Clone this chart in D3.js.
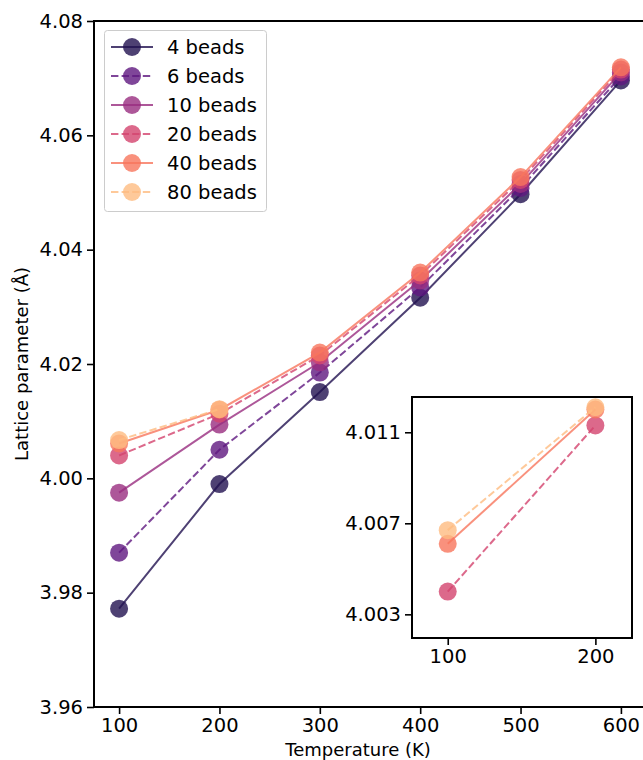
<!DOCTYPE html>
<html>
<head>
<meta charset="utf-8">
<script src="https://cdn.jsdelivr.net/npm/d3@7"></script>
<style>
  html, body { margin: 0; padding: 0; background: #fff; }
  svg { display: block; font-family: "DejaVu Sans", sans-serif; }
</style>
</head>
<body>
<svg id="chart" width="643" height="760"></svg>
<script>
// Lattice parameter vs temperature for different numbers of path-integral beads
const temperatures = [100, 200, 300, 400, 500, 600];
const seriesNames = ["4 beads", "6 beads", "10 beads", "20 beads", "40 beads", "80 beads"];
const beads4  = [3.9772, 3.9990, 4.0151, 4.0316, 4.0497, 4.0696];
const beads6  = [3.9870, 4.0050, 4.0185, 4.0334, 4.0508, 4.0703];
const beads10 = [3.9975, 4.0094, 4.0203, 4.0346, 4.0515, 4.0710];
const beads20 = [4.0040, 4.0113, 4.0215, 4.0355, 4.0522, 4.0715];
const beads40 = [4.0061, 4.0120, 4.0220, 4.0360, 4.0527, 4.0719];
const beads80 = [4.0067, 4.0121]; // 100 K and 200 K only
const seriesValues = [beads4, beads6, beads10, beads20, beads40, beads80];
const colors = ["#221150", "#5f187f", "#982d80", "#d3436e", "#f8765c", "#febb81"];
const dashed = [false, true, false, true, false, true];

const yTicks = [3.96, 3.98, 4.00, 4.02, 4.04, 4.06, 4.08];
const xTicks = [100, 200, 300, 400, 500, 600];
const insetXTicks = [100, 200];
const insetYTicks = [4.003, 4.007, 4.011];
const insetSeries = [3, 4, 5];
const insetPoints = 2; // the inset shows the 100 K and 200 K points only

const svg = d3.select("#chart");
const alpha = 0.8;
const fontSize = 19.5;

// Main axes
const main = { left: 94, right: 646, top: 21, bottom: 707 };
const x = d3.scaleLinear().domain([75, 625]).range([main.left, main.right]);
const y = d3.scaleLinear().domain([3.96, 4.08]).range([main.bottom, main.top]);

function drawSeries(g, xs, ys, idx, n, r) {
  idx.forEach(k => {
    const pts = seriesValues[k].slice(0, n).map((v, i) => [temperatures[i], v]);
    const sg = g.append("g");
    sg.append("path")
      .datum(pts)
      .attr("d", d3.line().x(d => xs(d[0])).y(d => ys(d[1])))
      .attr("fill", "none")
      .attr("stroke", colors[k])
      .attr("stroke-opacity", alpha)
      .attr("stroke-width", 2)
      .attr("stroke-dasharray", dashed[k] ? "7.4,3.2" : null);
    sg.selectAll("circle")
      .data(pts)
      .join("circle")
      .attr("cx", d => xs(d[0]))
      .attr("cy", d => ys(d[1]))
      .attr("r", r)
      .attr("fill", colors[k])
      .attr("fill-opacity", alpha);
  });
}

function styleAxis(a) {
  a.select(".domain").remove();
  a.selectAll(".tick line").attr("stroke", "#000").attr("stroke-width", 1.6);
  a.selectAll(".tick text").attr("font-size", fontSize).attr("fill", "#000")
    .attr("font-family", "DejaVu Sans, sans-serif");
}

const plot = svg.append("g");
drawSeries(plot, x, y, [0, 1, 2, 3, 4, 5], temperatures.length, 9);

// Axes
const xAxis = svg.append("g")
  .attr("transform", `translate(0,${main.bottom})`)
  .call(d3.axisBottom(x).tickValues(xTicks).tickFormat(d3.format("d")).tickSize(7).tickPadding(4));
const yAxis = svg.append("g")
  .attr("transform", `translate(${main.left},0)`)
  .call(d3.axisLeft(y).tickValues(yTicks).tickFormat(d3.format(".2f")).tickSize(7).tickPadding(4));
styleAxis(xAxis);
styleAxis(yAxis);

// Spines
svg.append("rect")
  .attr("x", main.left).attr("y", main.top)
  .attr("width", main.right - main.left).attr("height", main.bottom - main.top)
  .attr("fill", "none").attr("stroke", "#000").attr("stroke-width", 2);

// Axis labels
svg.append("text")
  .attr("x", 358).attr("y", 756)
  .attr("text-anchor", "middle").attr("font-size", 18)
  .text("Temperature (K)");
svg.append("text")
  .attr("transform", `translate(28,${(main.top + main.bottom) / 2}) rotate(-90)`)
  .attr("text-anchor", "middle").attr("font-size", 18)
  .text("Lattice parameter (Å)");

// Legend
const legend = svg.append("g");
legend.append("rect")
  .attr("x", 104.5).attr("y", 30.5).attr("width", 162).attr("height", 181)
  .attr("rx", 3).attr("fill", "#fff").attr("fill-opacity", 0.8)
  .attr("stroke", "#cccccc").attr("stroke-width", 1);
seriesNames.forEach((name, k) => {
  const cy = 47 + k * 29;
  const lg = legend.append("g");
  lg.append("line")
    .attr("x1", 111).attr("x2", 153).attr("y1", cy).attr("y2", cy)
    .attr("stroke", colors[k]).attr("stroke-opacity", alpha).attr("stroke-width", 2)
    .attr("stroke-dasharray", dashed[k] ? "7.4,3.2" : null);
  lg.append("circle")
    .attr("cx", 132).attr("cy", cy).attr("r", 9)
    .attr("fill", colors[k]).attr("fill-opacity", alpha);
  lg.append("text")
    .attr("x", 167).attr("y", cy + 7)
    .attr("font-size", fontSize).attr("fill", "#000")
    .text(name);
});

// Inset zoom on the low-temperature region of the higher bead counts
const ins = { left: 412, right: 632, top: 397, bottom: 638 };
const xi = d3.scaleLinear().domain([75.8, 224.8]).range([ins.left, ins.right]);
const yi = d3.scaleLinear().domain([4.00196, 4.01255]).range([ins.bottom, ins.top]);

svg.append("rect")
  .attr("x", ins.left).attr("y", ins.top)
  .attr("width", ins.right - ins.left).attr("height", ins.bottom - ins.top)
  .attr("fill", "#fff");
svg.append("clipPath").attr("id", "insetClip")
  .append("rect")
  .attr("x", ins.left).attr("y", ins.top)
  .attr("width", ins.right - ins.left).attr("height", ins.bottom - ins.top);
const insetPlot = svg.append("g").attr("clip-path", "url(#insetClip)");
drawSeries(insetPlot, xi, yi, insetSeries, insetPoints, 9);

const xiAxis = svg.append("g")
  .attr("transform", `translate(0,${ins.bottom})`)
  .call(d3.axisBottom(xi).tickValues(insetXTicks).tickFormat(d3.format("d")).tickSize(7).tickPadding(4));
const yiAxis = svg.append("g")
  .attr("transform", `translate(${ins.left},0)`)
  .call(d3.axisLeft(yi).tickValues(insetYTicks).tickFormat(d3.format(".3f")).tickSize(7).tickPadding(4));
styleAxis(xiAxis);
styleAxis(yiAxis);
svg.append("rect")
  .attr("x", ins.left).attr("y", ins.top)
  .attr("width", ins.right - ins.left).attr("height", ins.bottom - ins.top)
  .attr("fill", "none").attr("stroke", "#000").attr("stroke-width", 2);
</script>
</body>
</html>
